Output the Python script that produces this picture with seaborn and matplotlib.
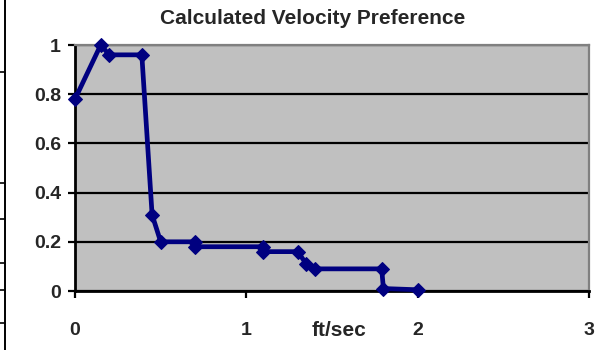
import matplotlib
matplotlib.use("Agg")
import matplotlib.pyplot as plt
import seaborn as sns
import pandas as pd
from matplotlib.lines import Line2D

# Velocity (ft/sec) and the calculated preference value at each point
velocity = [0.0, 0.15, 0.20, 0.39, 0.45, 0.50, 0.70, 0.70, 1.10, 1.10, 1.30, 1.35, 1.40, 1.79, 1.80, 2.00]
preference = [0.78, 1.00, 0.96, 0.96, 0.31, 0.20, 0.20, 0.18, 0.18, 0.16, 0.16, 0.11, 0.09, 0.09, 0.01, 0.005]

x_ticks = [0, 1, 2, 3]
y_ticks = [0, 0.2, 0.4, 0.6, 0.8, 1.0]
y_tick_labels = ["0", "0.2", "0.4", "0.6", "0.8", "1"]
title = "Calculated Velocity Preference"
x_label = "ft/sec"

sns.set_theme(style="white")
plt.rcParams["font.family"] = ["Liberation Sans", "DejaVu Sans"]

df = pd.DataFrame({"velocity": velocity, "preference": preference})

fig = plt.figure(figsize=(6.05, 3.5), dpi=100)
ax = fig.add_axes([75 / 605, 1 - 291 / 350, (589 - 75) / 605, (291 - 45) / 350])
ax.set_facecolor("#C0C0C0")

# estimator=None keeps repeated velocities as separate points (step changes)
sns.lineplot(data=df, x="velocity", y="preference", ax=ax, sort=False, estimator=None,
             color="#000080", linewidth=3.4, marker="D", markersize=7.5,
             markeredgecolor="#000080", markerfacecolor="#000080", clip_on=False, zorder=5)

ax.set_xlim(0, 3)
ax.set_ylim(0, 1)
ax.set_xticks(x_ticks)
ax.set_xticklabels([str(t) for t in x_ticks])
ax.set_yticks(y_ticks)
ax.set_yticklabels(y_tick_labels)
for lab in ax.get_xticklabels() + ax.get_yticklabels():
    lab.set_fontweight("bold")
    lab.set_fontsize(14)

ax.yaxis.grid(True, color="black", linewidth=1.6)
ax.xaxis.grid(False)
ax.set_axisbelow(True)

for side in ("left", "bottom"):
    ax.spines[side].set_color("black")
    ax.spines[side].set_linewidth(2.0)
for side in ("top", "right"):
    ax.spines[side].set_color("#808080")
    ax.spines[side].set_linewidth(1.6)

ax.tick_params(axis="y", direction="out", length=5, width=1.6, color="black", pad=5, left=True)
ax.tick_params(axis="x", direction="out", length=5, width=1.6, color="black", pad=17, bottom=True)

ax.set_xlabel("")
ax.set_ylabel("")
fig.text(313 / 605, 1 - 18 / 350, title, fontsize=15, fontweight="bold",
         ha="center", va="center")
fig.text(339 / 605, 1 - 330 / 350, x_label, fontsize=15, fontweight="bold",
         ha="center", va="center")

# Border line and row markers along the left edge of the sheet
fig.add_artist(Line2D([5 / 605, 5 / 605], [0, 1], color="black", linewidth=1.4, transform=fig.transFigure))
for yp in [72, 183, 219, 263, 290, 323]:
    fig.add_artist(Line2D([0, 5 / 605], [1 - yp / 350, 1 - yp / 350], color="black",
                          linewidth=1.2, transform=fig.transFigure))

fig.savefig("out.png", dpi=100, facecolor="white")
